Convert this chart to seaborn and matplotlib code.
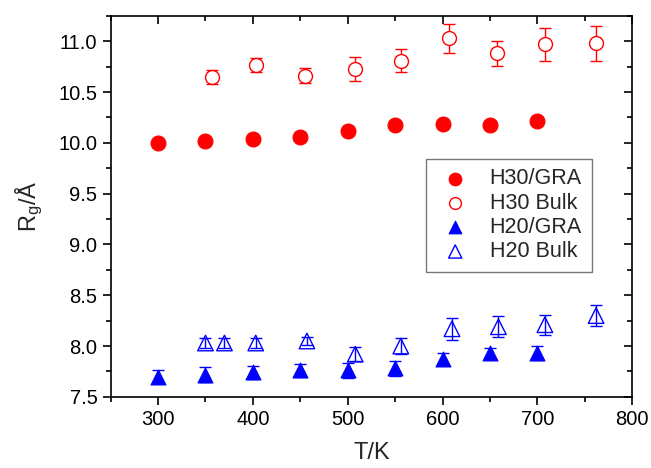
import matplotlib
matplotlib.use("Agg")
import matplotlib.pyplot as plt
import seaborn as sns
import pandas as pd
from matplotlib.ticker import MultipleLocator

# ---- data ----
t_h30_gra = [300, 350, 400, 450, 500, 550, 600, 650, 700]
rg_h30_gra = [10.00, 10.02, 10.04, 10.06, 10.12, 10.18, 10.19, 10.18, 10.22]
err_h30_gra = [0.02, 0.02, 0.02, 0.02, 0.02, 0.02, 0.02, 0.04, 0.02]

t_h30_bulk = [357, 403, 455, 508, 556, 607, 658, 708, 762]
rg_h30_bulk = [10.65, 10.77, 10.66, 10.73, 10.81, 11.03, 10.88, 10.97, 10.98]
err_h30_bulk = [0.07, 0.07, 0.075, 0.12, 0.115, 0.145, 0.125, 0.16, 0.17]

t_h20_gra = [300, 350, 400, 450, 500, 550, 600, 650, 700]
rg_h20_gra = [7.70, 7.72, 7.74, 7.76, 7.76, 7.78, 7.87, 7.93, 7.93]
err_h20_gra = [0.06, 0.07, 0.06, 0.06, 0.07, 0.07, 0.06, 0.05, 0.07]

t_h20_bulk = [350, 370, 403, 457, 508, 556, 610, 659, 708, 762]
rg_h20_bulk = [8.03, 8.03, 8.03, 8.05, 7.92, 8.00, 8.17, 8.19, 8.21, 8.30]
err_h20_bulk = [0.05, 0.05, 0.05, 0.04, 0.07, 0.075, 0.11, 0.105, 0.10, 0.10]

series = [
    ("H30/GRA", t_h30_gra, rg_h30_gra, err_h30_gra, "#ff0000", "o", "filled"),
    ("H30 Bulk", t_h30_bulk, rg_h30_bulk, err_h30_bulk, "#ff0000", "o", "white"),
    ("H20/GRA", t_h20_gra, rg_h20_gra, err_h20_gra, "#0000ff", "^", "filled"),
    ("H20 Bulk", t_h20_bulk, rg_h20_bulk, err_h20_bulk, "#0000ff", "^", "none"),
]

sns.set_style("ticks")
plt.rcParams['font.family'] = ['Liberation Sans', 'DejaVu Sans']
plt.rcParams['mathtext.fontset'] = 'custom'
plt.rcParams['mathtext.rm'] = 'Liberation Sans'
plt.rcParams['mathtext.it'] = 'Liberation Sans'

fig = plt.figure(figsize=(6.51, 4.68), dpi=100)
ax = fig.add_axes([0.170, 0.152, 0.801, 0.814])

for name, t, rg, err, col, mk, fill in series:
    df = pd.DataFrame({"T": t, "Rg": rg})
    ax.errorbar(t, rg, yerr=err, fmt="none", ecolor=col, elinewidth=1.0,
                capsize=4.5, capthick=1.0, zorder=2)
    if fill == "filled":
        sns.scatterplot(data=df, x="T", y="Rg", marker=mk, s=115, color=col,
                        edgecolor=col, linewidth=0.8, ax=ax, label=name, zorder=3)
    else:
        fc = "white" if fill == "white" else "none"
        size = 100 if mk == "o" else 125
        sns.scatterplot(data=df, x="T", y="Rg", marker=mk, s=size, facecolor=fc,
                        edgecolor=col, linewidth=1.0, ax=ax, label=name, zorder=3)

ax.set_xlim(250, 800)
ax.set_ylim(7.5, 11.25)
ax.xaxis.set_major_locator(MultipleLocator(100))
ax.xaxis.set_minor_locator(MultipleLocator(50))
ax.yaxis.set_major_locator(MultipleLocator(0.5))
ax.yaxis.set_minor_locator(MultipleLocator(0.25))
ax.yaxis.set_major_formatter(matplotlib.ticker.FormatStrFormatter('%.1f'))

for s in ax.spines.values():
    s.set_linewidth(1.2)
    s.set_color("black")
ax.tick_params(which="both", direction="out", width=1.2, labelsize=14.5,
               colors="black", top=True, right=True, labeltop=False, labelright=False)
ax.tick_params(which="major", length=6)
ax.tick_params(which="minor", length=3.5)
for tk in ax.xaxis.get_major_ticks() + ax.xaxis.get_minor_ticks():
    tk.tick2line.set_marker(matplotlib.lines.TICKDOWN)
for tk in ax.yaxis.get_major_ticks() + ax.yaxis.get_minor_ticks():
    tk.tick2line.set_marker(matplotlib.lines.TICKLEFT)

ax.set_xlabel("T/K", fontsize=17, labelpad=9)
ax.set_ylabel(r"R$_\mathregular{g}$/Å", fontsize=17, labelpad=10)

leg = ax.legend(loc="upper left", bbox_to_anchor=(0.605, 0.625), fontsize=15.5,
                frameon=True, fancybox=False, edgecolor="#555555",
                handletextpad=0.7, borderpad=0.45, labelspacing=0.15,
                handlelength=1.8, markerscale=0.85, borderaxespad=0)
leg.get_frame().set_linewidth(1.0)

fig.savefig("out.png", dpi=100)
